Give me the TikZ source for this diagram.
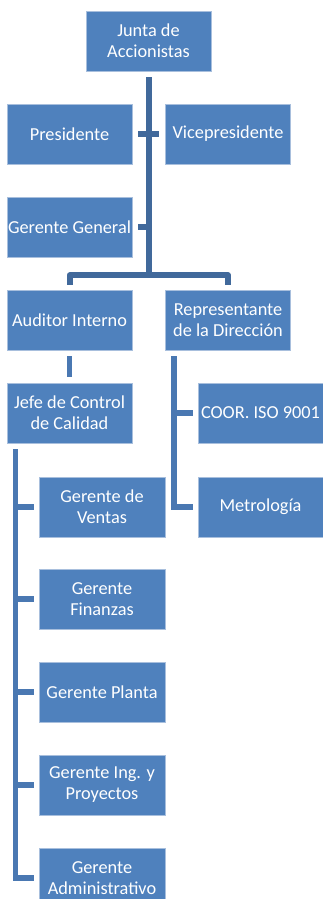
\documentclass[tikz,border=0pt]{standalone}
\usepackage{fontspec}
\setmainfont{Carlito}
\usetikzlibrary{calc}
\definecolor{boxblue}{HTML}{4F81BD}
\definecolor{boxedge}{HTML}{A8BFDD}
\definecolor{trunkblue}{HTML}{41699B}
\definecolor{connblue}{HTML}{4A78B2}
\tikzset{
  orgbox/.style={rectangle, fill=boxblue, draw=boxedge, line width=0.8pt,
    minimum width=125pt, minimum height=60pt, inner sep=0pt,
    text=white, align=center,
    font=\fontsize{18.3}{21}\selectfont},
  trunkline/.style={draw=trunkblue, line width=6pt},
  connline/.style={draw=connblue, line width=5.5pt}
}
\begin{document}
\begin{tikzpicture}[x=1pt,y=-1pt]
\clip (0,0) rectangle (323,899);
\fill[white] (0,0) rectangle (323,899);

\node[orgbox] (junta) at (148.5,41) {Junta de\\Accionistas};
\node[orgbox] (pres) at (69.5,134) {Presidente};
\node[orgbox] (vice) at (228,134) {Vicepresidente};
\node[orgbox] (gg) at (69.5,227) {Gerente General};
\node[orgbox] (aud) at (69.5,320) {Auditor Interno};
\node[orgbox] (rep) at (228,320) {Representante\\de la Dirección};
\node[orgbox] (jefe) at (69.5,413) {Jefe de Control\\de Calidad};
\node[orgbox] (coor) at (260.5,413) {COOR. ISO 9001};
\node[orgbox] (metro) at (260.5,507) {Metrología};
\node[orgbox, minimum width=126pt] (ventas) at (102,507) {Gerente de\\Ventas};
\node[orgbox, minimum width=126pt] (fin) at (102,599) {Gerente\\Finanzas};
\node[orgbox, minimum width=126pt] (planta) at (102,692) {Gerente Planta};
\node[orgbox, minimum width=126pt] (ing) at (102,785) {Gerente Ing. y\\Proyectos};
\node[orgbox, minimum width=126pt] (admin) at (102,878) {Gerente\\Administrativo};

% main trunk
\coordinate (bus) at ($(junta.south)+(0,204)$);
\draw[trunkline] ($(junta.south)+(0,6)$) -- (bus);
\draw[trunkline] ($(pres.east)+(6,0)$) -- ($(vice.west)+(-6,0)$);
\draw[trunkline] ($(gg.east)+(6,0)$) -- (gg.east -| junta.south);
\draw[trunkline, line join=round] ($(aud.north)+(0,-5)$) |- (bus) -| ($(rep.north)+(0,-5)$);

% auditor to jefe
\draw[connline] ($(aud.south)+(0,6)$) -- ($(jefe.north)+(0,-6)$);

% representante branch
\coordinate (rv) at ($(rep.south west)+(9,6)$);
\draw[connline] (rv) |- ($(metro.west)+(-5,0)$);
\draw[connline] ($(coor.west)+(-5,0)$) -- (coor.west -| rv);

% jefe branch
\coordinate (jv) at ($(jefe.south west)+(9,6)$);
\draw[connline] (jv) |- ($(admin.west)+(-5,0)$);
\draw[connline] ($(ventas.west)+(-5,0)$) -- (ventas.west -| jv);
\draw[connline] ($(fin.west)+(-5,0)$) -- (fin.west -| jv);
\draw[connline] ($(planta.west)+(-5,0)$) -- (planta.west -| jv);
\draw[connline] ($(ing.west)+(-5,0)$) -- (ing.west -| jv);
\end{tikzpicture}
\end{document}
